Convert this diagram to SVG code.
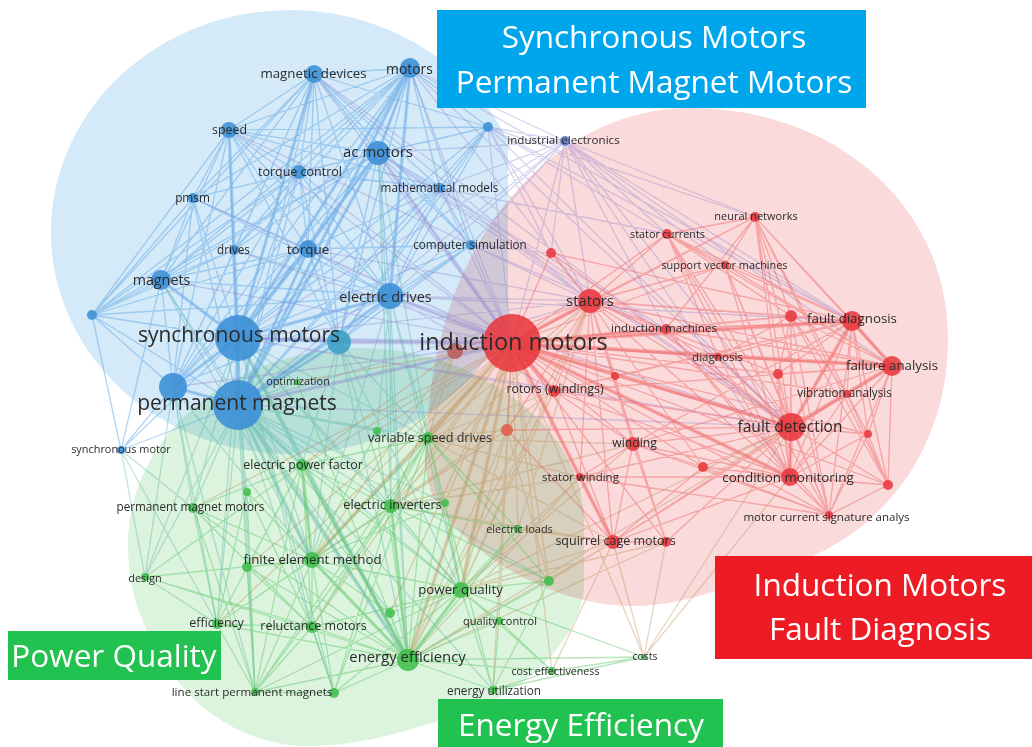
<svg xmlns="http://www.w3.org/2000/svg" width="1032" height="747" viewBox="0 0 1032 747">
<style>
.blob{mix-blend-mode:multiply}
.e{fill:none;stroke-linecap:round;stroke-linejoin:round}
.eb{stroke:#4f9be0;stroke-opacity:.42;stroke-width:1.3}
.ebk{stroke:#4f9be0;stroke-opacity:.3;stroke-width:3.5}
.ep{stroke:#8f82cc;stroke-opacity:.36;stroke-width:1.3}
.epk{stroke:#8f82cc;stroke-opacity:.28;stroke-width:4}
.er{stroke:#ee4f4f;stroke-opacity:.4;stroke-width:1.3}
.erk{stroke:#ee4f4f;stroke-opacity:.32;stroke-width:4}
.eo{stroke:#c08f58;stroke-opacity:.38;stroke-width:1.3}
.eok{stroke:#c08f58;stroke-opacity:.28;stroke-width:4}
.et{stroke:#56b4a6;stroke-opacity:.38;stroke-width:1.3}
.etk{stroke:#56b4a6;stroke-opacity:.28;stroke-width:4}
.eg{stroke:#5cc566;stroke-opacity:.45;stroke-width:1.3}
.egk{stroke:#5cc566;stroke-opacity:.34;stroke-width:3.5}
.nb{fill:#3a8ed6;fill-opacity:.88}
.nr{fill:#e8343a;fill-opacity:.85}
.ng{fill:#3dbd48;fill-opacity:.85}
.lb{font-family:"Open Sans","Noto Sans",sans-serif;fill:#2b2b2b;text-anchor:middle}
.tag{font-family:"Open Sans","Noto Sans",sans-serif;fill:#ffffff;text-anchor:middle;font-size:31.5px}
</style>
<defs>
<clipPath id="clipBlue"><rect x="0" y="0" width="508" height="747"/></clipPath>
</defs>
<rect width="1032" height="747" fill="#ffffff"/>

<!-- cluster areas -->
<g id="areas">
<ellipse class="blob" cx="290" cy="232" rx="239" ry="222" fill="#d4eaf9" clip-path="url(#clipBlue)"/>
<path class="blob" d="M690 108C830 108 948 200 948 340C948 450 880 540 780 568C720 590 680 606 630 606C560 606 470 560 435 500C420 470 425 440 428 420C440 230 560 108 690 108Z" fill="#fadadb"/>
<path class="blob" d="M360 348C480 348 584 430 584 520L584 588C580 640 520 700 450 718C400 732 360 746 310 746C250 746 200 715 170 670C140 625 128 590 128 545C128 430 240 348 360 348Z" fill="#dcf4de"/>
</g>

<!-- links between terms -->
<g id="connectors">
<path class="e eb" d="M314 74 238 338 410 68M229 130 238 338 378 153M299 172 238 338 440 188M193 198 238 338 488 127M471 245 238 338 234 250M308 249 238 338 161 280M390 296 238 338 92 315M339 342 238 338 173 387M238 405 238 338 121 450
M314 74 238 405 410 68M229 130 238 405 378 153M299 172 238 405 440 188M193 198 238 405 488 127M471 245 238 405 234 250M308 249 238 405 161 280M390 296 238 405 92 315M339 342 238 405 173 387M121 450 238 405
M314 74 390 296 410 68M229 130 390 296 378 153M299 172 390 296 440 188M193 198 390 296 488 127M234 250 390 296 308 249M161 280 390 296 92 315M339 342 390 296 173 387M471 245 390 296
M314 74 378 153 410 68M229 130 378 153 299 172M440 188 378 153 193 198M488 127 378 153 471 245M234 250 378 153 308 249M161 280 378 153 92 315M173 387 378 153 339 342
M314 74 410 68 229 130M299 172 410 68 440 188M193 198 410 68 488 127M471 245 410 68 234 250M308 249 410 68 161 280M92 315 410 68 173 387M339 342 410 68
M229 130 314 74 299 172M440 188 314 74 488 127M234 250 314 74 308 249M161 280 314 74 92 315M173 387 314 74 339 342M471 245 314 74 193 198
M299 172 229 130 193 198M234 250 229 130 308 249M161 280 229 130 92 315M173 387 229 130 440 188M339 342 229 130 488 127
M299 172 308 249 161 280M193 198 308 249 173 387M339 342 308 249 440 188M471 245 308 249 92 315
M193 198 161 280 234 250M92 315 161 280 173 387M299 172 161 280 121 450
M173 387 92 315 193 198M234 250 92 315 121 450M299 172 92 315 229 130
M121 450 173 387 193 198M299 172 173 387 234 250
M440 188 299 172 193 198M234 250 299 172 488 127
M299 172 339 342 440 188M471 245 339 342 488 127
M488 127 440 188 471 245"/>
<path class="e ebk" d="M238 338 238 405M390 296 238 338 378 153M410 68 238 338 161 280M390 296 238 405 378 153M410 68 238 405 173 387M238 338 173 387M314 74 238 338 229 130M308 249 238 338 339 342M308 249 238 405 339 342M378 153 410 68M390 296 410 68"/>
<path class="e ep" d="M314 74 512 343 410 68M229 130 512 343 378 153M299 172 512 343 440 188M488 127 512 343 565 141M471 245 512 343 308 249M161 280 512 343 390 296M238 338 512 343 339 342M173 387 512 343 238 405M234 250 512 343 193 198
M590 301 565 141 551 253M755 217 565 141 667 234M852 321 565 141 791 427M892 366 565 141 410 68M378 153 565 141 488 127M440 188 565 141 238 338M238 405 565 141 390 296M471 245 565 141 725 265M666 329 565 141 790 477
M590 301 488 127 755 217M667 234 488 127 551 253M852 321 488 127 791 427
M410 68 590 301M410 68 852 321M410 68 791 427M378 153 590 301M378 153 791 427M378 153 666 329M390 296 590 301M390 296 791 427M390 296 852 321M390 296 554 391M238 338 590 301M238 338 791 427M238 338 554 391M238 405 590 301M238 405 791 427M471 245 590 301M471 245 551 253M471 245 666 329M440 188 590 301M440 188 791 427M440 188 667 234M308 249 590 301M314 74 590 301M314 74 791 427M229 130 590 301"/>
<path class="e epk" d="M238 338 512 343 238 405M390 296 512 343 378 153M339 342 512 343"/>
<path class="e er" d="M590 301 512 343 551 253M755 217 512 343 667 234M725 265 512 343 666 329M852 321 512 343 791 316M718 357 512 343 892 366M778 374 512 343 615 376M554 391 512 343 847 394M791 427 512 343 868 434M507 430 512 343 633 444M703 467 512 343 580 477M790 477 512 343 888 485M829 515 512 343 613 542M666 542 512 343 455 351
M590 301 791 427 755 217M667 234 791 427 725 265M666 329 791 427 852 321M791 316 791 427 718 357M892 366 791 427 778 374M615 376 791 427 554 391M847 394 791 427 868 434M633 444 791 427 703 467M580 477 791 427 790 477M888 485 791 427 829 515M613 542 791 427 666 542M551 253 791 427 507 430
M590 301 852 321 755 217M667 234 852 321 725 265M666 329 852 321 791 316M718 357 852 321 892 366M778 374 852 321 615 376M847 394 852 321 868 434M790 477 852 321 888 485M829 515 852 321 633 444M554 391 852 321 551 253
M590 301 892 366 755 217M667 234 892 366 725 265M666 329 892 366 791 316M718 357 892 366 778 374M847 394 892 366 868 434M790 477 892 366 888 485M829 515 892 366 633 444M613 542 892 366 554 391
M755 217 590 301 667 234M725 265 590 301 666 329M791 316 590 301 718 357M778 374 590 301 615 376M554 391 590 301 633 444M703 467 590 301 580 477M790 477 590 301 613 542M666 542 590 301 507 430M551 253 590 301 455 351
M755 217 790 477 667 234M725 265 790 477 666 329M791 316 790 477 718 357M778 374 790 477 847 394M868 434 790 477 888 485M829 515 790 477 633 444M703 467 790 477 580 477M613 542 790 477 554 391
M667 234 755 217 725 265M666 329 755 217 791 316M847 394 755 217 868 434M888 485 755 217 829 515
M725 265 667 234 829 515M791 316 667 234 718 357
M725 265 829 515 666 329M791 316 829 515 868 434M888 485 829 515 633 444M580 477 829 515 703 467
M791 316 888 485 847 394M868 434 888 485
M580 477 633 444 613 542M666 542 633 444 703 467M554 391 633 444 615 376
M580 477 613 542 554 391M507 430 613 542 666 542M703 467 613 542
M666 329 791 316 718 357M778 374 791 316 847 394"/>
<path class="e erk" d="M590 301 512 343 791 427M852 321 512 343 892 366M790 477 512 343 666 329M554 391 512 343 613 542M852 321 791 427 892 366M790 477 791 427M852 321 892 366"/>
<path class="e eo" d="M297 382 512 343 428 438M377 431 512 343 302 465M391 506 512 343 445 503M518 529 512 343 312 560M461 590 512 343 549 581M499 621 512 343 408 660M552 671 512 343 644 657M493 690 512 343 312 627M390 613 512 343 247 567M193 508 512 343 217 624
M428 438 590 301 391 506M461 590 590 301 408 660M518 529 590 301
M428 438 507 430 391 506M461 590 507 430 312 560M408 660 507 430 549 581
M428 438 554 391 461 590M391 506 554 391 408 660
M461 590 613 542 408 660M518 529 613 542 549 581M552 671 613 542 644 657M391 506 613 542 428 438
M461 590 666 542 408 660M644 657 666 542
M428 438 633 444 461 590M391 506 633 444
M428 438 580 477 391 506M408 660 580 477 461 590
M428 438 455 351 391 506M312 560 455 351 302 465
M461 590 791 427 408 660M644 657 790 477M644 657 791 427"/>
<path class="e eok" d="M408 660 512 343 461 590M312 560 512 343 428 438"/>
<path class="e et" d="M297 382 238 405 428 438M377 431 238 405 302 465M247 492 238 405 193 508M391 506 238 405 445 503M312 560 238 405 247 567M145 577 238 405 461 590M217 624 238 405 312 627M390 613 238 405 408 660M255 692 238 405 334 693M493 690 238 405 549 581
M297 382 238 338 428 438M302 465 238 338 193 508M391 506 238 338 312 560M247 567 238 338 145 577M461 590 238 338 217 624M312 627 238 338 408 660M255 692 238 338 334 693
M428 438 339 342 302 465M391 506 339 342 312 560M461 590 339 342 408 660
M428 438 390 296 377 431M391 506 390 296 461 590M408 660 390 296 312 560
M193 508 173 387 145 577M255 692 173 387 217 624M312 560 173 387
M145 577 121 450 193 508M217 624 121 450
M428 438 378 153 391 506M408 660 378 153
M161 280 312 560M161 280 408 660"/>
<path class="e etk" d="M408 660 238 405 312 560M302 465 238 405M408 660 238 338"/>
<path class="e eg" d="M297 382 408 660 428 438M377 431 408 660 302 465M247 492 408 660 193 508M391 506 408 660 445 503M518 529 408 660 312 560M247 567 408 660 145 577M461 590 408 660 549 581M217 624 408 660 312 627M390 613 408 660 499 621M552 671 408 660 644 657M255 692 408 660 334 693M493 690 408 660
M302 465 312 560 247 492M193 508 312 560 391 506M445 503 312 560 247 567M145 577 312 560 461 590M217 624 312 560 312 627M390 613 312 560 255 692M334 693 312 560 428 438M377 431 312 560
M428 438 461 590 302 465M391 506 461 590 445 503M518 529 461 590 549 581M499 621 461 590 552 671M493 690 461 590 390 613M312 627 461 590 255 692M334 693 461 590 644 657
M428 438 302 465 193 508M391 506 302 465 247 567M312 627 302 465 255 692M217 624 302 465 145 577
M247 492 312 627 193 508M391 506 312 627 247 567M217 624 312 627 255 692M334 693 312 627 145 577M428 438 312 627
M428 438 391 506 445 503M518 529 391 506 549 581M255 692 391 506 334 693M217 624 391 506
M445 503 428 438 518 529M549 581 428 438 255 692M334 693 428 438 493 690
M145 577 217 624 247 492M255 692 217 624 193 508
M247 567 255 692 247 492M193 508 255 692 334 693
M552 671 493 690 644 657M549 581 493 690 499 621
M644 657 552 671 499 621"/>
<path class="e egk" d="M408 660 312 560M408 660 461 590M408 660 302 465M312 560 302 465M408 660 391 506"/>
</g>

<!-- synchronous / permanent magnet cluster -->
<g id="n-magnetic-devices"><circle class="nb" cx="314" cy="74" r="9"/><text class="lb" x="313.5" y="78.4" font-size="13.3">magnetic devices</text></g>
<g id="n-motors"><circle class="nb" cx="410" cy="68" r="10"/><text class="lb" x="409.5" y="73.6" font-size="13.9">motors</text></g>
<g id="n-speed"><circle class="nb" cx="229" cy="130" r="8"/><text class="lb" x="229.5" y="134.1" font-size="12.4">speed</text></g>
<g id="n-ac-motors"><circle class="nb" cx="378" cy="153" r="12"/><text class="lb" x="378" y="157" font-size="15">ac motors</text></g>
<g id="n-torque-control"><circle class="nb" cx="299" cy="172" r="7"/><text class="lb" x="300" y="176.1" font-size="12.5">torque control</text></g>
<g id="n-mathematical-models"><circle class="nb" cx="440" cy="188" r="5"/><text class="lb" x="439.5" y="191.9" font-size="11.7">mathematical models</text></g>
<g id="n-pmsm"><circle class="nb" cx="193" cy="198" r="5"/><text class="lb" x="192.5" y="201.9" font-size="11.8">pmsm</text></g>
<g id="n-b8"><circle class="nb" cx="488" cy="127" r="5"/></g>
<g id="n-industrial-electronics"><circle cx="565" cy="141" r="5" fill="#5a72c4" fill-opacity=".85"/><text class="lb" x="563.5" y="143.8" font-size="11.6">industrial electronics</text></g>
<g id="n-computer-simulation"><circle class="nb" cx="471" cy="245" r="5"/><text class="lb" x="470" y="248.9" font-size="11.7">computer simulation</text></g>
<g id="n-drives"><circle class="nb" cx="234" cy="250" r="5"/><text class="lb" x="233.5" y="253.9" font-size="11.7">drives</text></g>
<g id="n-torque"><circle class="nb" cx="308" cy="249" r="9"/><text class="lb" x="308" y="253.5" font-size="13.5">torque</text></g>
<g id="n-magnets"><circle class="nb" cx="161" cy="280" r="10"/><text class="lb" x="161.5" y="284.7" font-size="14.3">magnets</text></g>
<g id="n-electric-drives"><circle class="nb" cx="390" cy="296" r="13"/><text class="lb" x="385.5" y="301.8" font-size="14.4">electric drives</text></g>
<g id="n-b15"><circle class="nb" cx="92" cy="315" r="5"/></g>
<g id="n-b17"><circle cx="339" cy="342" r="12" fill="#3a9ec4" fill-opacity=".88"/></g>
<g id="n-b18"><circle class="nb" cx="173" cy="387" r="14"/></g>
<g id="n-synchronous-motors"><circle class="nb" cx="238" cy="338" r="23"/><text class="lb" x="239" y="341.9" font-size="21">synchronous motors</text></g>
<g id="n-permanent-magnets"><circle class="nb" cx="238" cy="405" r="25"/><text class="lb" x="237" y="409.9" font-size="21">permanent magnets</text></g>
<g id="n-synchronous-motor"><circle class="nb" cx="121" cy="450" r="4"/><text class="lb" x="121" y="452.6" font-size="10.9">synchronous motor</text></g>

<!-- induction motor / fault diagnosis cluster -->
<g id="n-r2"><circle cx="455" cy="351" r="8" fill="#b85a58" fill-opacity=".85"/></g>
<g id="n-induction-motors"><circle class="nr" cx="512" cy="343" r="29"/><text class="lb" x="513.5" y="349.8" font-size="23.5">induction motors</text></g>
<g id="n-stators"><circle class="nr" cx="590" cy="301" r="12"/><text class="lb" x="590" y="305.9" font-size="14.8">stators</text></g>
<g id="n-r4"><circle class="nr" cx="551" cy="253" r="5"/></g>
<g id="n-neural-networks"><circle class="nr" cx="755" cy="217" r="5"/><text class="lb" x="756" y="219.6" font-size="11">neural networks</text></g>
<g id="n-stator-currents"><circle class="nr" cx="667" cy="234" r="5"/><text class="lb" x="667.5" y="237.6" font-size="10.8">stator currents</text></g>
<g id="n-support-vector-machines"><circle class="nr" cx="725" cy="265" r="4"/><text class="lb" x="724.5" y="268.6" font-size="10.9">support vector machines</text></g>
<g id="n-induction-machines"><circle class="nr" cx="666" cy="329" r="5"/><text class="lb" x="664" y="331.8" font-size="11.6">induction machines</text></g>
<g id="n-r10"><circle class="nr" cx="791" cy="316" r="6"/></g>
<g id="n-fault-diagnosis"><circle class="nr" cx="852" cy="321" r="10"/><text class="lb" x="852" y="323.4" font-size="13.3">fault diagnosis</text></g>
<g id="n-diagnosis"><circle class="nr" cx="718" cy="357" r="4"/><text class="lb" x="717.5" y="360.8" font-size="11.6">diagnosis</text></g>
<g id="n-failure-analysis"><circle class="nr" cx="892" cy="366" r="10"/><text class="lb" x="892" y="370.4" font-size="13.3">failure analysis</text></g>
<g id="n-r13"><circle class="nr" cx="778" cy="374" r="5"/></g>
<g id="n-r14"><circle class="nr" cx="615" cy="376" r="4"/></g>
<g id="n-rotors-windings"><circle class="nr" cx="554" cy="391" r="6"/><text class="lb" x="555" y="393.1" font-size="12.4">rotors (windings)</text></g>
<g id="n-vibration-analysis"><circle class="nr" cx="847" cy="394" r="4"/><text class="lb" x="844.5" y="396.9" font-size="11.7">vibration analysis</text></g>
<g id="n-fault-detection"><circle class="nr" cx="791" cy="427" r="14"/><text class="lb" x="790" y="432.1" font-size="15.5">fault detection</text></g>
<g id="n-r18"><circle class="nr" cx="868" cy="434" r="4"/></g>
<g id="n-r19"><circle cx="507" cy="430" r="6" fill="#de5a48" fill-opacity=".85"/></g>
<g id="n-winding"><circle class="nr" cx="633" cy="444" r="7"/><text class="lb" x="634.5" y="447" font-size="12.2">winding</text></g>
<g id="n-r21"><circle class="nr" cx="703" cy="467" r="5"/></g>
<g id="n-stator-winding"><circle class="nr" cx="580" cy="477" r="4"/><text class="lb" x="580.5" y="480.8" font-size="11.5">stator winding</text></g>
<g id="n-condition-monitoring"><circle class="nr" cx="790" cy="477" r="9"/><text class="lb" x="788" y="482.4" font-size="13.4">condition monitoring</text></g>
<g id="n-r24"><circle class="nr" cx="888" cy="485" r="5"/></g>
<g id="n-motor-current-signature-analysis"><circle class="nr" cx="829" cy="515" r="4"/><text class="lb" x="826.5" y="520.8" font-size="11.5">motor current signature analys</text></g>
<g id="n-squirrel-cage-motors"><circle class="nr" cx="613" cy="542" r="7"/><circle class="nr" cx="666" cy="542" r="5"/><text class="lb" x="615.5" y="545.1" font-size="12.5">squirrel cage motors</text></g>

<!-- power quality / energy efficiency cluster -->
<g id="n-optimization"><circle class="ng" cx="297" cy="382" r="3"/><text class="lb" x="298" y="384.6" font-size="10.9">optimization</text></g>
<g id="n-g3"><circle class="ng" cx="377" cy="431" r="4"/></g>
<g id="n-variable-speed-drives"><circle class="ng" cx="428" cy="438" r="6"/><text class="lb" x="430" y="442.2" font-size="12.6">variable speed drives</text></g>
<g id="n-electric-power-factor"><circle class="ng" cx="302" cy="465" r="6"/><text class="lb" x="303" y="469.1" font-size="12.5">electric power factor</text></g>
<g id="n-g5"><circle class="ng" cx="247" cy="492" r="4"/></g>
<g id="n-permanent-magnet-motors"><circle class="ng" cx="193" cy="508" r="5"/><text class="lb" x="190.5" y="510.9" font-size="11.7">permanent magnet motors</text></g>
<g id="n-electric-inverters"><circle class="ng" cx="391" cy="506" r="7"/><circle class="ng" cx="445" cy="503" r="4"/><text class="lb" x="392.5" y="509.2" font-size="12.7">electric inverters</text></g>
<g id="n-electric-loads"><circle class="ng" cx="518" cy="529" r="4"/><text class="lb" x="519.5" y="532.6" font-size="10.9">electric loads</text></g>
<g id="n-finite-element-method"><circle class="ng" cx="312" cy="560" r="8"/><circle class="ng" cx="247" cy="567" r="5"/><text class="lb" x="312.5" y="564.4" font-size="13.3">finite element method</text></g>
<g id="n-design"><circle class="ng" cx="145" cy="577" r="4"/><text class="lb" x="145" y="581.6" font-size="11">design</text></g>
<g id="n-g14"><circle class="ng" cx="549" cy="581" r="5"/></g>
<g id="n-power-quality"><circle class="ng" cx="461" cy="590" r="8"/><text class="lb" x="460.5" y="594.4" font-size="13.3">power quality</text></g>
<g id="n-g17"><circle class="ng" cx="390" cy="613" r="5"/></g>
<g id="n-efficiency"><circle class="ng" cx="217" cy="624" r="5"/><text class="lb" x="216.5" y="627.1" font-size="12.5">efficiency</text></g>
<g id="n-reluctance-motors"><circle class="ng" cx="312" cy="627" r="6"/><text class="lb" x="313.5" y="630.1" font-size="12.5">reluctance motors</text></g>
<g id="n-quality-control"><circle class="ng" cx="499" cy="621" r="4"/><text class="lb" x="500" y="624.6" font-size="11">quality control</text></g>
<g id="n-energy-efficiency"><circle class="ng" cx="408" cy="660" r="11"/><text class="lb" x="407.5" y="661.9" font-size="14.9">energy efficiency</text></g>
<g id="n-cost-effectiveness"><circle class="ng" cx="552" cy="671" r="4"/><text class="lb" x="555.5" y="674.5" font-size="10.7">cost effectiveness</text></g>
<g id="n-costs"><circle class="ng" cx="644" cy="657" r="3"/><text class="lb" x="645" y="660.4" font-size="10.4">costs</text></g>
<g id="n-line-start-permanent-magnets"><circle class="ng" cx="255" cy="692" r="4"/><circle class="ng" cx="334" cy="693" r="5"/><text class="lb" x="252" y="695.8" font-size="11.6">line start permanent magnets</text></g>
<g id="n-energy-utilization"><circle class="ng" cx="493" cy="690" r="4"/><text class="lb" x="494" y="694.9" font-size="11.7">energy utilization</text></g>

<!-- cluster titles -->
<g id="title-synchronous">
<rect x="437" y="10" width="429" height="98" fill="#00a6eb"/>
<text class="tag" x="654" y="48">Synchronous Motors</text>
<text class="tag" x="654" y="93">Permanent Magnet Motors</text>
</g>
<g id="title-induction">
<rect x="715" y="556" width="317" height="103" fill="#ed1c24"/>
<text class="tag" x="880" y="596">Induction Motors</text>
<text class="tag" x="880" y="640">Fault Diagnosis</text>
</g>
<g id="title-power-quality">
<rect x="8" y="631" width="213" height="49" fill="#21c24f"/>
<text class="tag" x="114" y="667">Power Quality</text>
</g>
<g id="title-energy-efficiency">
<rect x="438" y="699" width="285" height="48" fill="#21c24f"/>
<text class="tag" x="581" y="736">Energy Efficiency</text>
</g>
</svg>
